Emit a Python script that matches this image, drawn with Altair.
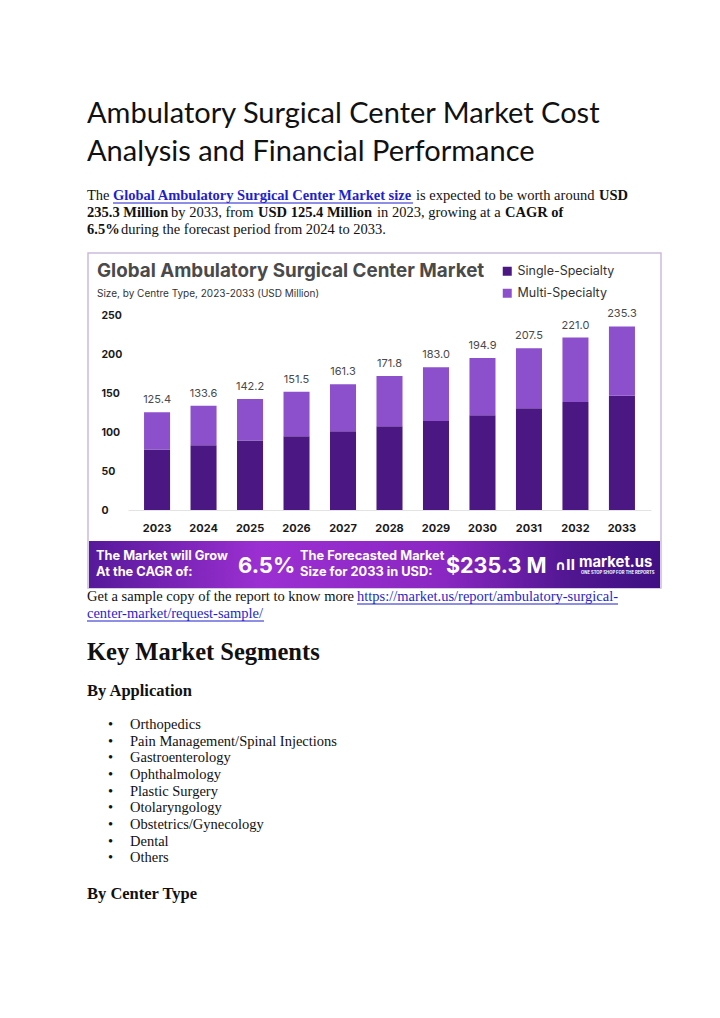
import altair as alt
import pandas as pd

# ---------------- data ----------------
years = ["2023", "2024", "2025", "2026", "2027", "2028", "2029", "2030", "2031", "2032", "2033"]
totals = [125.4, 133.6, 142.2, 151.5, 161.3, 171.8, 183.0, 194.9, 207.5, 221.0, 235.3]
single_specialty = [77.5, 83.0, 89.0, 94.5, 100.9, 107.3, 114.1, 121.4, 130.3, 138.4, 146.5]
multi_specialty = [47.9, 50.6, 53.2, 57.0, 60.4, 64.5, 68.9, 73.5, 77.2, 82.6, 88.8]
segments = ["Single-Specialty", "Multi-Specialty"]
segment_colors = ["#4b1782", "#8c50cc"]
y_ticks = [0, 50, 100, 150, 200, 250]

applications = ["Orthopedics", "Pain Management/Spinal Injections", "Gastroenterology",
                "Ophthalmology", "Plastic Surgery", "Otolaryngology",
                "Obstetrics/Gynecology", "Dental", "Others"]

rows = []
for i, y in enumerate(years):
    rows.append({"year": y, "segment": segments[0], "value": single_specialty[i], "ord": 0})
    rows.append({"year": y, "segment": segments[1], "value": multi_specialty[i], "ord": 1})
bar_df = pd.DataFrame(rows)
tot_df = pd.DataFrame({"year": years, "total": totals})

W, H = 704, 1002
OFF = 8  # page margin
ONE = pd.DataFrame({"k": [0]})

SANS = "Inter"
SERIF = "Liberation Serif"


def T(text, x, y, **kw):
    props = dict(align="left", baseline="alphabetic")
    props.update(kw)
    return alt.Chart(ONE).mark_text(text=text, **props).encode(
        x=alt.value(x - OFF), y=alt.value(y - OFF))


def R(x1, x2, y1, y2, **kw):
    return alt.Chart(ONE).mark_rect(**kw).encode(
        x=alt.value(x1 - OFF), x2=alt.value(x2 - OFF),
        y=alt.value(y1 - OFF), y2=alt.value(y2 - OFF))


def U(x1, x2, y, color="#1f1fd0"):
    return alt.Chart(ONE).mark_rule(color=color, strokeWidth=1).encode(
        x=alt.value(x1 - OFF), x2=alt.value(x2 - OFF), y=alt.value(y - OFF))


layers = []

# ---------------- page header ----------------
layers += [
    T("Ambulatory Surgical Center Market Cost", 87, 123, font="Lato", fontSize=29, color="#111"),
    T("Analysis and Financial Performance", 87, 161, font="Lato", fontSize=29, color="#111"),
]
P = dict(font=SERIF, fontSize=14.5, color="#111")
PB = dict(font=SERIF, fontSize=14.5, color="#111", fontWeight="bold")
LK = dict(font=SERIF, fontSize=14.5, color="#1f1fd0", fontWeight="bold")
layers += [
    T("The", 87, 200, **P),
    T("Global Ambulatory Surgical Center Market size", 113, 200, **LK),
    U(113, 413, 203),
    T("is expected to be worth around", 416, 200, **P),
    T("USD", 599, 200, **PB),
    T("235.3 Million", 87, 217, **PB),
    T("by 2033, from", 171, 217, **P),
    T("USD 125.4 Million", 258, 217, **PB),
    T("in 2023, growing at a", 377, 217, **P),
    T("CAGR of", 505, 217, **PB),
    T("6.5%", 87, 234, **PB),
    T("during the forecast period from 2024 to 2033.", 121, 234, **P),
]

# ---------------- infographic box ----------------
layers.append(R(88, 661, 253, 588, fill="white", stroke="#cbbcdc", strokeWidth=1.5))
layers += [
    T("Global Ambulatory Surgical Center Market", 97, 277, font=SANS, fontSize=18.8,
      fontWeight="bold", color="#4a4a4a"),
    T("Size, by Centre Type, 2023-2033 (USD Million)", 97, 297, font=SANS, fontSize=10,
      color="#333"),
]

bars = alt.Chart(bar_df).mark_bar().encode(
    x=alt.X("year:N", title=None,
            scale=alt.Scale(range=[120, 643], paddingInner=0.44, paddingOuter=0.345),
            axis=alt.Axis(orient="bottom", offset=-(H - 502), labelAngle=0, zindex=1,
                          ticks=False, tickSize=0, labelPadding=18, labelBaseline="middle",
                          domain=True, domainColor="#e3e3e3", domainWidth=1,
                          labelFont=SANS, labelFontSize=11, labelFontWeight="bold",
                          labelColor="#1a1a1a", grid=False)),
    y=alt.Y("value:Q", stack="zero", title=None,
            scale=alt.Scale(domain=[0, 250], range=[502, 307], nice=False, zero=True),
            axis=alt.Axis(orient="left", offset=-93, values=y_ticks, labelAlign="left",
                          labelPadding=0, ticks=False, tickSize=0, domain=False, grid=False,
                          zindex=1, labelFont=SANS, labelFontSize=10.5, labelFontWeight="bold",
                          labelColor="#1a1a1a", labelBaseline="middle")),
    color=alt.Color("segment:N", scale=alt.Scale(domain=segments, range=segment_colors),
                    legend=alt.Legend(orient="none", legendX=493, legendY=257, title=None,
                                      symbolType="square", symbolSize=81,
                                      symbolStrokeWidth=0, labelFont=SANS,
                                      labelFontSize=12.5, labelColor="#333",
                                      rowPadding=9, labelOffset=4, zindex=1)),
    order=alt.Order("ord:Q", sort="ascending"),
)
labels = alt.Chart(tot_df).mark_text(baseline="alphabetic", dy=-9, font=SANS, fontSize=11,
                                     color="#4a4a4a").encode(
    x=alt.X("year:N"), y=alt.Y("total:Q"), text=alt.Text("total:Q", format=".1f"))
layers += [bars, labels]

# ---------------- banner ----------------
grad = alt.LinearGradient(
    gradient="linear",
    stops=[alt.GradientStop(offset=0, color="#56199a"),
           alt.GradientStop(offset=0.3, color="#9c2fd2"),
           alt.GradientStop(offset=0.62, color="#8a27c2"),
           alt.GradientStop(offset=0.85, color="#4f1690"),
           alt.GradientStop(offset=1, color="#3f1083")],
    x1=0, x2=1, y1=0, y2=0)
layers.append(R(89, 660, 541, 588, color=grad))
BW = dict(font=SANS, fontWeight="bold", color="white")
layers += [
    T("The Market will Grow", 96, 560, fontSize=12.8, **BW),
    T("At the CAGR of:", 96, 576, fontSize=12.8, **BW),
    T("6.5%", 238, 573, fontSize=22, **BW),
    T("The Forecasted Market", 300, 560, fontSize=12.8, **BW),
    T("Size for 2033 in USD:", 300, 576, fontSize=12.8, **BW),
    T("$235.3 M", 446, 573, fontSize=21.5, **BW),
    T("\u2229ll", 555, 570, fontSize=13.5, font="DejaVu Sans", fontWeight="bold", color="white"),
    T("market.us", 579, 567, fontSize=14.8, **BW),
    T("ONE STOP SHOP FOR THE REPORTS", 581, 574, fontSize=4.2, **BW),
]

# ---------------- page footer ----------------
layers += [
    T("Get a sample copy of the report to know more", 87, 601, **P),
    T("https://market.us/report/ambulatory-surgical-", 357, 601, font=SERIF, fontSize=14.5,
      color="#1f1fd0"),
    U(357, 618, 604),
    T("center-market/request-sample/", 87, 618, font=SERIF, fontSize=14.5, color="#1f1fd0"),
    U(87, 264, 621),
    T("Key Market Segments", 87, 660, font=SERIF, fontSize=24.5, fontWeight="bold", color="#111"),
    T("By Application", 87, 696, font=SERIF, fontSize=16.5, fontWeight="bold", color="#111"),
    T("By Center Type", 87, 899, font=SERIF, fontSize=16.5, fontWeight="bold", color="#111"),
]
for i, item in enumerate(applications):
    yb = 729 + i * 16.65
    layers.append(T("\u2022", 108, yb, **P))
    layers.append(T(item, 130, yb, **P))

chart = alt.layer(*layers).properties(
    width=W, height=H,
    autosize=alt.AutoSizeParams(type="none"),
    padding=0,
    background="white",
).configure_view(stroke=None)

chart.save("out.html", embed_options={"renderer": "svg", "actions": False})
